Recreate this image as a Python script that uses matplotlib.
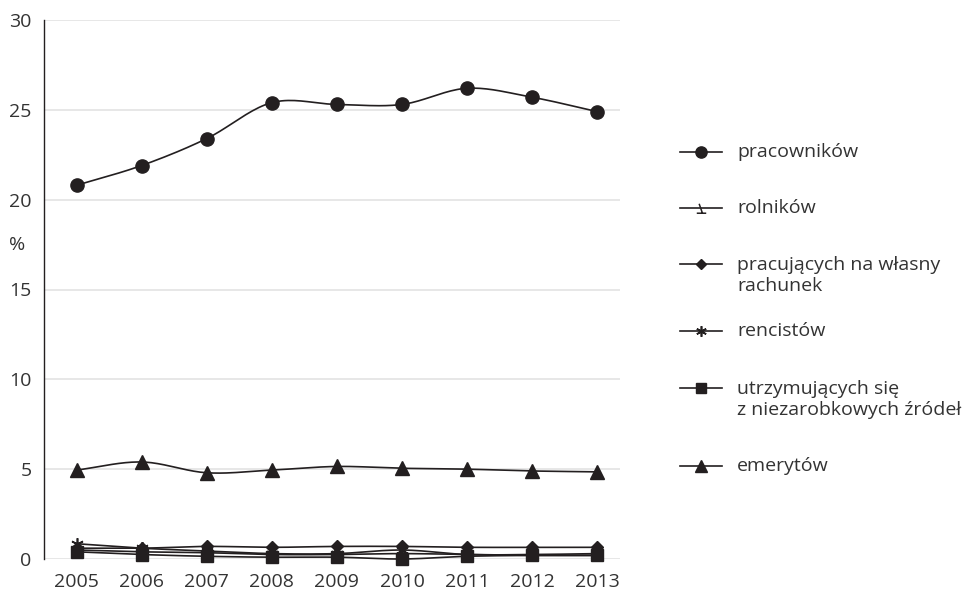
import numpy as np
import matplotlib
matplotlib.use("Agg")
import matplotlib.pyplot as plt
from matplotlib.lines import Line2D
from matplotlib.path import Path

plt.rcParams['font.family'] = ['Open Sans', 'DejaVu Sans']

years = [2005, 2006, 2007, 2008, 2009, 2010, 2011, 2012, 2013]
pracownikow = [20.8, 21.9, 23.4, 25.4, 25.3, 25.3, 26.2, 25.7, 24.9]
rolnikow = [0.5, 0.4, 0.35, 0.25, 0.25, 0.3, 0.25, 0.2, 0.2]
wlasny_rachunek = [0.6, 0.6, 0.7, 0.65, 0.7, 0.7, 0.65, 0.65, 0.65]
rencistow = [0.85, 0.6, 0.45, 0.3, 0.3, 0.5, 0.25, 0.25, 0.3]
niezarobkowe = [0.4, 0.25, 0.15, 0.1, 0.1, 0.0, 0.15, 0.2, 0.2]
emerytow = [4.95, 5.4, 4.8, 4.95, 5.15, 5.05, 5.0, 4.9, 4.85]

labels = ["pracowników", "rolników", "pracujących na własny\nrachunek", "rencistów",
          "utrzymujących się\nz niezarobkowych źródeł", "emerytów"]
yticks = [0, 5, 10, 15, 20, 25, 30]

C = '#231f20'
FS = 14

# custom "hook" marker for rolników
hook = Path([(-0.5, -0.5), (0.5, -0.5), (-0.25, 0.5), (0.1, -0.5)],
            [Path.MOVETO, Path.LINETO, Path.MOVETO, Path.LINETO])

series = [
    (pracownikow, dict(marker='o', ms=9.5, mfc=C, mec=C)),
    (rolnikow, dict(marker=hook, ms=8, mfc='none', mec=C, mew=1.1)),
    (wlasny_rachunek, dict(marker='D', ms=6.5, mfc=C, mec=C)),
    (rencistow, dict(marker=(6, 2, 0), ms=9, mec=C, mew=1.2)),
    (niezarobkowe, dict(marker='s', ms=8.5, mfc=C, mec=C)),
    (emerytow, dict(marker='^', ms=9.5, mfc=C, mec=C)),
]


def smooth(x, y, n=20):
    x = np.asarray(x, float)
    y = np.asarray(y, float)
    px = np.concatenate([[2 * x[0] - x[1]], x, [2 * x[-1] - x[-2]]])
    py = np.concatenate([[2 * y[0] - y[1]], y, [2 * y[-1] - y[-2]]])
    xs, ys = [], []
    for i in range(1, len(px) - 2):
        t = np.linspace(0, 1, n, endpoint=False)
        for arr, out in ((px, xs), (py, ys)):
            p0, p1, p2, p3 = arr[i - 1], arr[i], arr[i + 1], arr[i + 2]
            out.append(0.5 * ((2 * p1) + (-p0 + p2) * t +
                              (2 * p0 - 5 * p1 + 4 * p2 - p3) * t ** 2 +
                              (-p0 + 3 * p1 - 3 * p2 + p3) * t ** 3))
    xs.append([x[-1]])
    ys.append([y[-1]])
    return np.concatenate(xs), np.concatenate(ys)


fig = plt.figure(figsize=(9.7, 5.91), dpi=100)
ax = fig.add_axes([44 / 970, 32 / 591, (620 - 44) / 970, (559 - 20) / 591])

for vals, st in series:
    sx, sy = smooth(years, vals)
    ax.plot(sx, sy, color=C, lw=1.2, zorder=3, clip_on=False)
    ax.plot(years, vals, ls='none', zorder=4, clip_on=False, **st)

ax.set_xlim(2004.5, 2013.35)
ax.set_ylim(0, 30)
ax.set_yticks(yticks)
ax.set_xticks(years)
ax.set_xticklabels([str(y) for y in years])
ax.grid(axis='y', color='#e3e3e3', lw=1.2, zorder=0)
ax.set_axisbelow(True)
for s in ['top', 'right', 'bottom']:
    ax.spines[s].set_visible(False)
ax.spines['left'].set_color(C)
ax.spines['left'].set_linewidth(1.0)
ax.tick_params(axis='both', length=0, labelsize=FS, colors='#333333')
ax.tick_params(axis='x', pad=10)
ax.tick_params(axis='y', pad=9)
ax.text(-0.033, 17.5, '%', transform=ax.get_yaxis_transform(), ha='right', va='center',
        fontsize=FS, color='#333333')

# manual legend
W, H = 970, 591
leg_rows = [152, 208, 264, 331, 388, 466]
for (vals, st), lab, yy in zip(series, labels, leg_rows):
    fy = 1 - yy / H
    fig.add_artist(Line2D([680 / W, 722 / W], [fy, fy], color=C, lw=1.2, transform=fig.transFigure))
    st2 = dict(st)
    st2['ms'] = st['ms'] * 0.85
    fig.add_artist(Line2D([701 / W], [fy], ls='none', transform=fig.transFigure, **st2))
    if '\n' in lab:
        fig.text(737 / W, fy + 8 / H, lab, ha='left', va='top', fontsize=FS,
                 color='#333333', linespacing=1.2)
    else:
        fig.text(737 / W, fy, lab, ha='left', va='center', fontsize=FS, color='#333333')

fig.savefig('out.png', dpi=100, facecolor='white')
